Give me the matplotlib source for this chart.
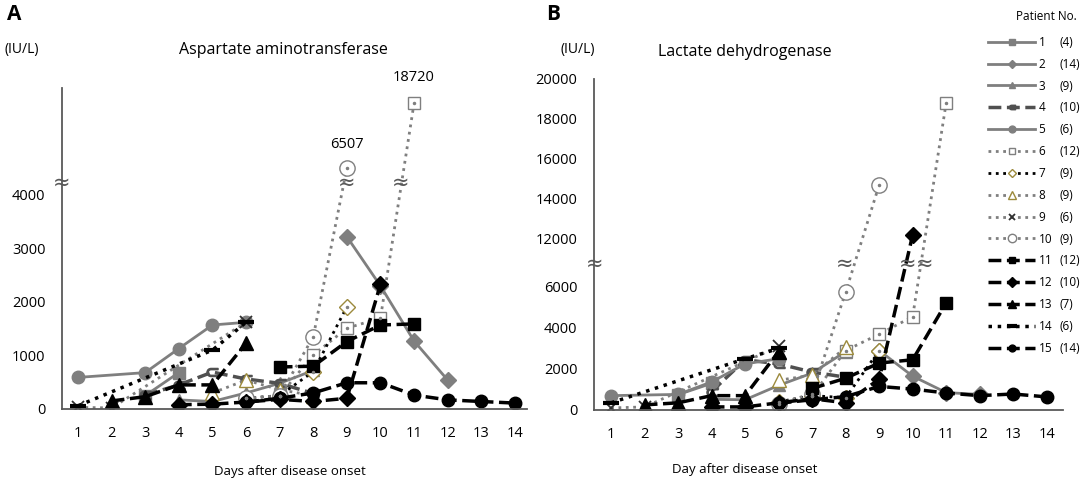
import numpy as np
import matplotlib.pyplot as plt
from matplotlib.lines import Line2D

plt.rcParams['font.family'] = ['Open Sans', 'DejaVu Sans']

N = np.nan
days = np.arange(1, 15)
patients = list(range(1, 16))
last_day = [4, 14, 9, 10, 6, 12, 9, 9, 6, 9, 12, 10, 7, 6, 14]

# AST (IU/L), day 1..14
ast_1 = [N, N, 250, 680, N, N, N, N, N, N, N, N, N, N]
ast_2 = [N, N, N, N, N, N, N, N, 3220, 2300, 1270, 540, N, N]
ast_3 = [N, N, N, 170, 140, 300, 480, 720, N, N, N, N, N, N]
ast_4 = [N, N, 260, 450, 690, 560, 480, 290, N, N, N, N, N, N]
ast_5 = [590, N, 680, 1130, 1570, 1620, N, N, N, N, N, N, N, N]
ast_6 = [N, N, N, N, N, N, 250, 1010, 1510, 1700, 18720, N, N, N]
ast_7 = [N, N, N, N, N, 200, 250, 700, 1910, N, N, N, N, N]
ast_8 = [N, N, N, N, 300, 540, 360, 250, N, N, N, N, N, N]
ast_9 = [30, 20, N, N, N, 1620, N, N, N, N, N, N, N, N]
ast_10 = [N, N, N, N, N, 200, 250, 1350, 6507, N, N, N, N, N]
ast_11 = [N, N, N, N, N, N, 785, 800, 1260, 1570, 1590, N, N, N]
ast_12 = [N, N, N, 80, 90, 130, 180, 140, 200, 2330, N, N, N, N]
ast_13 = [N, 150, 230, 450, 450, 1230, N, N, N, N, N, N, N, N]
ast_14 = [60, N, N, N, 1100, 1620, N, N, N, N, N, N, N, N]
ast_15 = [N, N, N, N, N, 130, 200, 300, 490, 490, 260, 170, 140, 110]

# LDH (IU/L), day 1..14
ldh_1 = [N, N, 750, 1300, N, N, N, N, N, N, N, N, N, N]
ldh_2 = [N, N, N, N, N, N, N, N, 2900, 1650, 850, 760, N, N]
ldh_3 = [N, N, N, 520, 500, 1200, 1800, 2850, N, N, N, N, N, N]
ldh_4 = [N, N, N, 900, 2450, 2250, 1850, 1600, N, N, N, N, N, N]
ldh_5 = [700, N, 760, 1370, 2250, 2500, N, N, N, N, N, N, N, N]
ldh_6 = [N, N, N, N, N, N, 700, 2900, 3700, 4550, 18800, N, N, N]
ldh_7 = [N, N, N, N, N, 400, 700, 600, 2900, N, N, N, N, N]
ldh_8 = [N, N, N, N, N, 1450, 1700, 3050, N, N, N, N, N, N]
ldh_9 = [100, 150, N, N, N, 3100, N, N, N, N, N, N, N, N]
ldh_10 = [N, N, N, N, N, 300, 800, 5750, 14700, N, N, N, N, N]
ldh_11 = [N, N, N, N, N, N, 1050, 1550, 2290, 2450, 5220, N, N, N]
ldh_12 = [N, N, N, 150, 150, 350, 550, 350, 1500, 12200, N, N, N, N]
ldh_13 = [N, 250, 350, 700, 700, 2850, N, N, N, N, N, N, N, N]
ldh_14 = [350, N, N, N, 2500, 3000, N, N, N, N, N, N, N, N]
ldh_15 = [N, N, N, N, N, 330, 500, 650, 1150, 1020, 830, 700, 780, 640]

ast_all = [ast_1, ast_2, ast_3, ast_4, ast_5, ast_6, ast_7, ast_8,
           ast_9, ast_10, ast_11, ast_12, ast_13, ast_14, ast_15]
ldh_all = [ldh_1, ldh_2, ldh_3, ldh_4, ldh_5, ldh_6, ldh_7, ldh_8,
           ldh_9, ldh_10, ldh_11, ldh_12, ldh_13, ldh_14, ldh_15]

ast_ticks = [0, 1000, 2000, 3000, 4000]
ldh_ticks = [0, 2000, 4000, 6000, 12000, 14000, 16000, 18000, 20000]

# broken axis: piecewise linear mapping
ast_kv = [-1000, 0, 4000, 6507, 18720, 40000]
ast_kf = [-1000, 0, 4000, 4505, 5720, 7837]
ldh_kv = [-1000, 0, 6000, 12000, 40000]
ldh_kf = [-1000, 0, 6000, 8341, 35658]

gray = '#7f7f7f'
olive = '#9c8a3c'
styles = [
    dict(color=gray, ls='-', lw=2, marker='s', mfc=gray, mec=gray, ms=8),
    dict(color=gray, ls='-', lw=2, marker='D', mfc=gray, mec=gray, ms=8),
    dict(color=gray, ls='-', lw=2, marker='^', mfc=gray, mec=gray, ms=8),
    dict(color='#505050', ls='--', lw=2.5, marker='$\\subset$', mfc='#505050', mec='#505050', ms=8),
    dict(color=gray, ls='-', lw=2, marker='o', mfc=gray, mec=gray, ms=9),
    dict(color=gray, ls=':', lw=2, marker='s', mfc='white', mec=gray, ms=9),
    dict(color='black', ls=':', lw=2, marker='D', mfc='white', mec=olive, ms=8),
    dict(color=gray, ls=':', lw=2, marker='^', mfc='white', mec=olive, ms=10),
    dict(color=gray, ls=':', lw=2, marker='x', mfc='none', mec='#303030', ms=9, mew=1.3),
    dict(color=gray, ls=':', lw=2, marker='o', mfc='white', mec=gray, ms=11),
    dict(color='black', ls='--', lw=2.5, marker='s', mfc='black', mec='black', ms=9),
    dict(color='black', ls='--', lw=2.5, marker='D', mfc='black', mec='black', ms=8.5),
    dict(color='black', ls='--', lw=2.5, marker='^', mfc='black', mec='black', ms=10),
    dict(color='black', ls=':', lw=2.5, marker='_', mfc='black', mec='black', ms=12, mew=3),
    dict(color='black', ls='--', lw=2.5, marker='o', mfc='black', mec='black', ms=9),
]
dotted_open = [6, 7, 10]


def make_scale(kv, kf):
    fwd = lambda v: np.interp(v, kv, kf)
    inv = lambda f: np.interp(f, kf, kv)
    return fwd, inv


def draw_panel(ax, data, kv, kf, ylim, yticks, xlim):
    fwd, inv = make_scale(kv, kf)
    ax.set_yscale('function', functions=(fwd, inv))
    for p, vals in zip(patients, data):
        v = np.array(vals, dtype=float)
        m = ~np.isnan(v)
        st = styles[p - 1]
        ax.plot(days[m], v[m], **st, zorder=2 + p * 0.01)
        if p in dotted_open:
            ax.plot(days[m], v[m], ls='none', marker='.', ms=3, color=gray, zorder=3)
    ax.set_xlim(*xlim)
    ax.set_ylim(*ylim)
    ax.set_xticks(days)
    ax.set_yticks(yticks)
    ax.yaxis.set_minor_locator(plt.NullLocator())
    ax.tick_params(length=0, labelsize=10.5)
    ax.tick_params(axis='x', pad=12)
    ax.tick_params(axis='y', pad=12)
    for s in ['top', 'right']:
        ax.spines[s].set_visible(False)
    for s in ['left', 'bottom']:
        ax.spines[s].set_color('#595959')
        ax.spines[s].set_linewidth(1.3)


fig = plt.figure(figsize=(10.9, 4.84), dpi=100)
axA = fig.add_axes([0.0569, 0.1550, 0.4266, 0.6632])
axB = fig.add_axes([0.545, 0.1529, 0.4303, 0.6839])

draw_panel(axA, ast_all, ast_kv, ast_kf, (0, 21534), ast_ticks, (0.524, 14.36))
draw_panel(axB, ldh_all, ldh_kv, ldh_kf, (0, 20000), ldh_ticks, (0.49, 14.49))

# break marks
brk = dict(ha='center', va='center', fontsize=15, color='#595959', clip_on=False, zorder=5,
           family='DejaVu Sans')
axA.text(0.524, 5112, '≈', **brk)
axA.text(9.0, 5112, '≈', **brk)
axA.text(10.6, 5112, '≈', **brk)
axB.text(0.49, 8870, '≈', **brk)
axB.text(7.98, 8870, '≈', **brk)
axB.text(9.85, 8870, '≈', **brk)
axB.text(10.35, 8870, '≈', **brk)

axA.annotate('6507', (9, 6507), xytext=(0, 17), textcoords='offset points',
             ha='center', va='center', fontsize=10.5)
axA.annotate('18720', (11, 18720), xytext=(0, 18), textcoords='offset points',
             ha='center', va='center', fontsize=10.5, annotation_clip=False)

fig.text(14 / 1090, 1 - 15 / 484, 'A', fontsize=15, fontweight='bold', ha='center', va='center')
fig.text(553 / 1090, 1 - 15 / 484, 'B', fontsize=15, fontweight='bold', ha='center', va='center')
fig.text(22 / 1090, 1 - 50 / 484, '(IU/L)', fontsize=10, ha='center', va='center')
fig.text(578 / 1090, 1 - 49 / 484, '(IU/L)', fontsize=10, ha='center', va='center')
fig.text(283 / 1090, 1 - 50 / 484, 'Aspartate aminotransferase', fontsize=11.5, ha='center', va='center')
fig.text(745 / 1090, 1 - 52 / 484, 'Lactate dehydrogenase', fontsize=11.5, ha='center', va='center')
fig.text(290 / 1090, 1 - 472 / 484, 'Days after disease onset', fontsize=9.5, ha='center', va='center')
fig.text(745 / 1090, 1 - 469 / 484, 'Day after disease onset', fontsize=9.5, ha='center', va='center')

# legend
fig.text(1046 / 1090, 1 - 17 / 484, 'Patient No.', fontsize=8.5, ha='center', va='center')
handles = []
for st in styles:
    h = dict(st)
    h['ms'] = st['ms'] * 0.55
    handles.append(Line2D([], [], **h))
leg = fig.legend(handles, [str(p) for p in patients], loc='upper left',
                 bbox_to_anchor=(982 / 1090, 1 - 30 / 484), frameon=False, fontsize=8.5,
                 handlelength=4, handletextpad=0.3, labelspacing=0.75, borderpad=0)
fig.canvas.draw()
for t, d in zip(leg.get_texts(), last_day):
    bb = t.get_window_extent()
    fig.text(1059 / 1090, (bb.y0 + bb.y1) / 2 / 484, f'({d})', fontsize=8.5, va='center')

fig.savefig('out.png', dpi=100)
